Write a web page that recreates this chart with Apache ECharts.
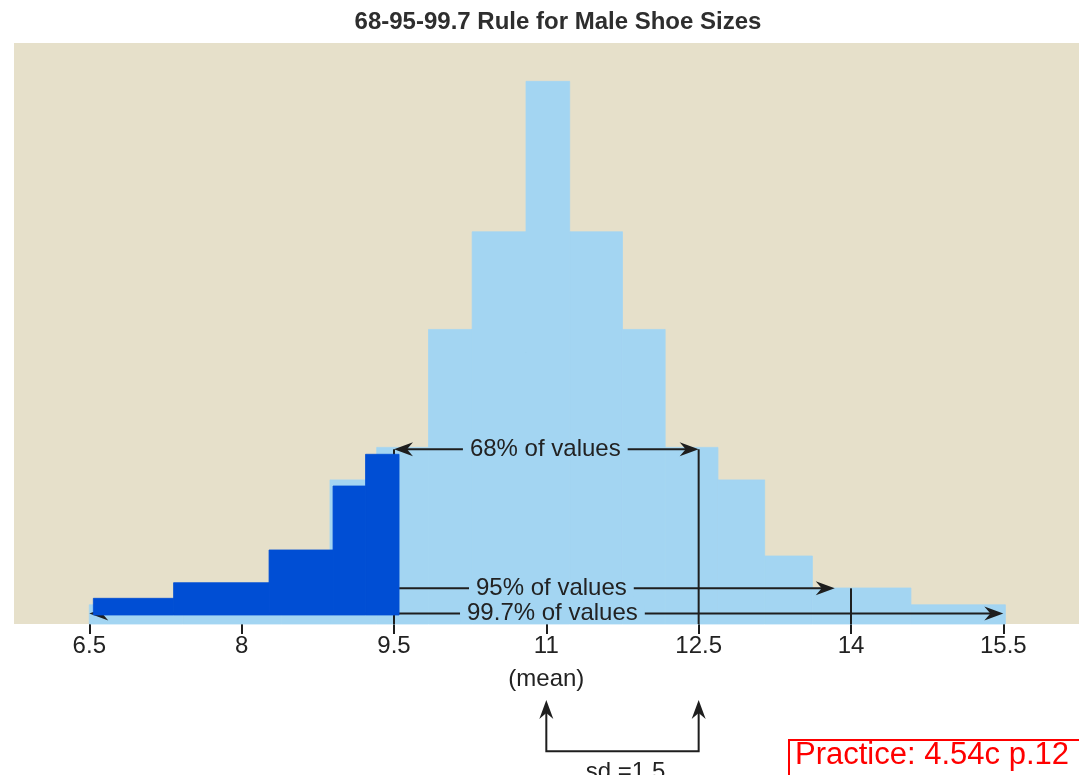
<!DOCTYPE html>
<html><head><meta charset="utf-8">
<script src="https://cdn.jsdelivr.net/npm/echarts@6/dist/echarts.min.js"></script>
<style>html,body{margin:0;padding:0;background:#fff}#c{width:1079px;height:775px}</style>
</head><body><div id="c"></div>
<script>
// ---- data ----
const titleText = '68-95-99.7 Rule for Male Shoe Sizes';
const xTicks = [6.5, 8, 9.5, 11, 12.5, 14, 15.5];
const meanValue = 11;
const meanLabel = '(mean)';
// light-blue histogram: bin edges (shoe size) and heights (relative frequency)
const binEdges = [6.5, 7.42, 8.39, 8.87, 9.33, 9.84, 10.27, 10.8, 11.23, 11.75, 12.17, 12.69, 13.15, 13.62, 14.59, 15.52];
const binHeights = [3.3, 6.2, 11.7, 24.8, 30.4, 50.7, 67.5, 93.4, 67.5, 50.7, 30.4, 24.8, 11.7, 6.2, 3.3];
// dark-blue highlighted bars below 9.5
const darkEdges = [6.54, 7.33, 8.27, 8.9, 9.22, 9.55];
const darkHeights = [4.42, 7.11, 12.74, 23.75, 29.21];
const darkBase = 1.55;
// rule arrows
const ruleLabels = ['68% of values', '95% of values', '99.7% of values'];
const ruleFrom = [9.5, 9.55, 6.5];
const ruleTo = [12.5, 13.84, 15.5];
const ruleLevel = [30.07, 6.14, 1.81];
const ruleArrowStart = [1, 0, 1];
const ruleLabelX = [10.99, 11.05, 11.06];
const dropLineX = [9.5, 12.5, 14];
const dropLineTop = [30.07, 30.07, 6.14];
// standard deviation bracket
const sdArrowX = [11, 12.5];
const sdArrowTop = -13.1;
const sdArrowBottom = -21.9;
const sdText = 'sd =1.5';
const sdTextX = 11.78;
const sdTextY = -23.4;
const noteText = 'Practice: 4.54c p.12';

// ---- styles ----
const BEIGE = '#e6e0ca', LIGHT = '#a3d5f2', DARK = '#004ed4', INK = '#1e1e1e';
const FONT = '24px "Liberation Sans", Arial, sans-serif';

function arrowHead(tip, dx, dy) {
  const L = 19, W = 7, N = 13;
  const nx = -dy, ny = dx;
  return {
    type: 'polygon',
    shape: { points: [
      [tip[0], tip[1]],
      [tip[0] - dx * L + nx * W, tip[1] - dy * L + ny * W],
      [tip[0] - dx * N, tip[1] - dy * N],
      [tip[0] - dx * L - nx * W, tip[1] - dy * L - ny * W]
    ] },
    style: { fill: INK }
  };
}

const lightData = binHeights.map((h, i) => [binEdges[i], binEdges[i + 1], h, 0]);
const darkData = darkHeights.map((h, i) => [darkEdges[i], darkEdges[i + 1], h, darkBase]);
const ruleData = ruleLabels.map((t, i) => [ruleFrom[i], ruleTo[i], ruleLevel[i], ruleArrowStart[i]]);
const dropData = dropLineX.map((x, i) => [x, dropLineTop[i]]);
const labelData = ruleLabels.map((t, i) => [ruleLabelX[i], ruleLevel[i]]);

function rectItem(color) {
  return function (params, api) {
    const p0 = api.coord([api.value(0), api.value(2)]);
    const p1 = api.coord([api.value(1), api.value(3)]);
    return { type: 'rect', shape: { x: p0[0], y: p0[1], width: p1[0] - p0[0], height: p1[1] - p0[1] },
             style: { fill: color, stroke: color, lineWidth: 0.8 } };
  };
}

const chart = echarts.init(document.getElementById('c'), null, { renderer: 'canvas' });
chart.setOption({
  animation: false,
  title: {
    text: titleText, left: 553, top: 5, textAlign: 'center',
    textStyle: { fontFamily: '"Liberation Sans", Arial, sans-serif', fontWeight: 'bold', fontSize: 24, color: '#2e2e2e' }
  },
  grid: { left: 14, right: 0, top: 43, bottom: 151, show: true, backgroundColor: BEIGE, borderWidth: 0 },
  xAxis: {
    type: 'value', min: 5.7586, max: 16.245,
    axisLine: { show: false },
    splitLine: { show: false },
    axisTick: { show: true, customValues: xTicks, length: 10, lineStyle: { color: INK, width: 2 } },
    axisLabel: {
      customValues: xTicks, margin: 6, fontSize: 24, lineHeight: 33, color: '#222',
      fontFamily: '"Liberation Sans", Arial, sans-serif',
      formatter: v => (v === meanValue ? v + '\n' + meanLabel : String(v))
    }
  },
  yAxis: { type: 'value', min: 0, max: 100, show: false },
  series: [
    { type: 'custom', z: 1, data: lightData, renderItem: rectItem(LIGHT), clip: false },
    {
      type: 'custom', z: 2, data: dropData, clip: false,
      renderItem: (params, api) => {
        const a = api.coord([api.value(0), api.value(1)]);
        const b = api.coord([api.value(0), 0]);
        return { type: 'line', shape: { x1: a[0], y1: a[1], x2: b[0], y2: b[1] }, style: { stroke: INK, lineWidth: 2 } };
      }
    },
    {
      type: 'custom', z: 2, data: ruleData, clip: false,
      renderItem: (params, api) => {
        const a = api.coord([api.value(0), api.value(2)]);
        const b = api.coord([api.value(1), api.value(2)]);
        const children = [
          { type: 'line', shape: { x1: a[0] + (api.value(3) ? 10 : 0), y1: a[1], x2: b[0] - 10, y2: b[1] }, style: { stroke: INK, lineWidth: 2 } },
          arrowHead(b, 1, 0)
        ];
        if (api.value(3)) children.push(arrowHead(a, -1, 0));
        return { type: 'group', children };
      }
    },
    { type: 'custom', z: 3, data: darkData, renderItem: rectItem(DARK), clip: false },
    {
      type: 'custom', z: 4, data: labelData, clip: false,
      renderItem: (params, api) => {
        const p = api.coord([api.value(0), api.value(1)]);
        return {
          type: 'text', x: p[0], y: p[1],
          style: { text: ruleLabels[params.dataIndex], font: FONT, fill: '#222', align: 'center', verticalAlign: 'middle',
                   lineHeight: 17, backgroundColor: LIGHT, padding: [0, 7] }
        };
      }
    },
    {
      type: 'custom', z: 4, data: [[sdArrowX[0], sdArrowX[1], sdArrowTop, sdArrowBottom]], clip: false,
      renderItem: (params, api) => {
        const a0 = api.coord([api.value(0), api.value(2)]);
        const a1 = api.coord([api.value(0), api.value(3)]);
        const b0 = api.coord([api.value(1), api.value(2)]);
        const b1 = api.coord([api.value(1), api.value(3)]);
        const t = api.coord([sdTextX, sdTextY]);
        return {
          type: 'group', children: [
            { type: 'polyline', shape: { points: [[a0[0], a0[1] + 12], a1, b1, [b0[0], b0[1] + 12]] }, style: { stroke: INK, lineWidth: 2, fill: null } },
            arrowHead(a0, 0, -1),
            arrowHead(b0, 0, -1),
            { type: 'text', x: t[0], y: t[1], style: { text: sdText, font: FONT, fill: '#222', align: 'center', verticalAlign: 'top' } }
          ]
        };
      }
    }
  ],
  graphic: [
    { type: 'rect', left: 788, top: 739, shape: { width: 330, height: 60 }, style: { fill: '#fff', stroke: '#ff0000', lineWidth: 2 }, z: 10 },
    { type: 'text', left: 795, top: 740, style: { text: noteText, font: '31px "Liberation Sans", Arial, sans-serif', fill: '#ff0000' }, z: 11 }
  ]
});
</script></body></html>
